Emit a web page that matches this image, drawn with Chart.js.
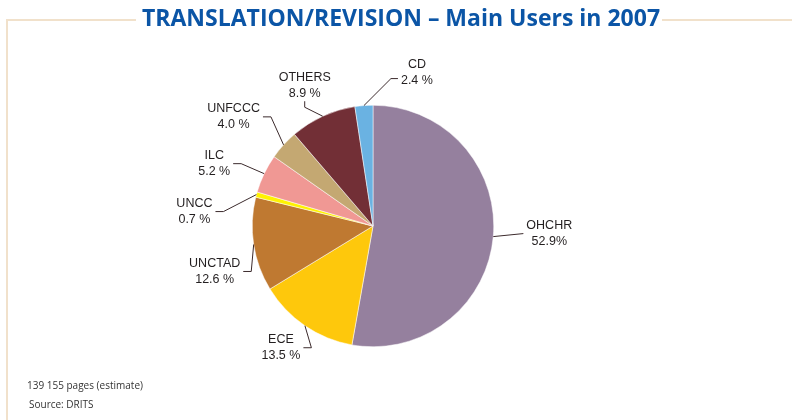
<!DOCTYPE html>
<html>
<head>
<meta charset="utf-8">
<script src="https://cdn.jsdelivr.net/npm/chart.js@4"></script>
<style>
  html, body { margin: 0; padding: 0; background: #fff; }
  #wrap { position: relative; width: 792px; height: 420px; }
</style>
</head>
<body>
<div id="wrap"><canvas id="pie" width="792" height="420"></canvas></div>
<script>
const users = ['OHCHR', 'ECE', 'UNCTAD', 'UNCC', 'ILC', 'UNFCCC', 'OTHERS', 'CD'];
const shares = [52.9, 13.5, 12.6, 0.7, 5.2, 4.0, 8.9, 2.4];
const shareText = ['52.9%', '13.5 %', '12.6 %', '0.7 %', '5.2 %', '4.0 %', '8.9 %', '2.4 %'];
const colours = ['#95809e', '#fec80c', '#bf7931', '#fff200', '#f09894', '#c4a872', '#722f36', '#6ab2e2'];

// label nudges from each slice's outer mid point, and which side the leader meets the text
const labelNudge = [[56, -3], [-24, 22], [-39, 27], [-62, 17], [-50, -10], [-50, -28], [-18, -31], [53, -33]];
const labelSide = ['l', 'r', 'r', 'r', 'r', 'r', 'b', 'l'];

const FRAME = '#f1e1cb';
const labelFont = '12.5px "Liberation Sans", Arial, sans-serif';

const pieLabels = {
    id: 'pieLabels',
    afterDatasetsDraw(chart) {
        const ctx = chart.ctx;
        const meta = chart.getDatasetMeta(0);
        ctx.save();
        ctx.font = labelFont;
        ctx.fillStyle = '#231f20';
        ctx.strokeStyle = '#3b2a2c';
        ctx.lineWidth = 1;
        ctx.textAlign = 'center';
        ctx.textBaseline = 'middle';
        meta.data.forEach(function(arc, i) {
            const p = arc.getProps(['x', 'y', 'startAngle', 'endAngle', 'outerRadius'], true);
            const mid = (p.startAngle + p.endAngle) / 2;
            const ex = p.x + Math.cos(mid) * p.outerRadius;
            const ey = p.y + Math.sin(mid) * p.outerRadius;
            const lx = ex + labelNudge[i][0];
            const ly = ey + labelNudge[i][1];
            const w = Math.max(ctx.measureText(users[i]).width, ctx.measureText(shareText[i]).width);
            ctx.fillText(users[i], lx, ly - 8);
            ctx.fillText(shareText[i], lx, ly + 8);

            ctx.beginPath();
            ctx.moveTo(ex, ey);
            if (labelSide[i] === 'r') {
                const tx = lx + w / 2 + 3;
                ctx.lineTo(tx + 8, ly);
                ctx.lineTo(tx, ly);
            } else if (labelSide[i] === 'l') {
                const tx = lx - w / 2 - 3;
                if (i === 0) {
                    ctx.lineTo(tx, ly);
                } else {
                    ctx.lineTo(tx - 7, ly + 6);
                    ctx.lineTo(tx, ly + 6);
                }
            } else {
                ctx.lineTo(lx, ly + 22);
                ctx.lineTo(lx, ly + 16);
            }
            ctx.stroke();
        });
        ctx.restore();
    }
};

const frame = {
    id: 'frame',
    beforeDraw(chart) {
        const ctx = chart.ctx;
        ctx.save();
        ctx.font = 'bold 23px "Open Sans", "DejaVu Sans", sans-serif';
        ctx.textAlign = 'center';
        ctx.textBaseline = 'middle';
        const title = 'TRANSLATION/REVISION \u2013 Main Users in 2007';
        const tw = ctx.measureText(title).width;
        const cx = 401;
        ctx.strokeStyle = FRAME;
        ctx.lineWidth = 2;
        ctx.beginPath();
        ctx.moveTo(7, 420);
        ctx.lineTo(7, 20);
        ctx.lineTo(cx - tw / 2 - 6, 20);
        ctx.moveTo(cx + tw / 2 + 2, 20);
        ctx.lineTo(792, 20);
        ctx.stroke();
        ctx.fillStyle = '#0b55a6';
        ctx.fillText(title, cx, 19);

        ctx.textAlign = 'left';
        ctx.fillStyle = '#333';
        ctx.font = '10px "Open Sans", sans-serif';
        ctx.fillText('139 155 pages (estimate)', 27, 386);
        ctx.fillText('Source: DRITS', 29, 405);
        ctx.restore();
    }
};

new Chart(document.getElementById('pie'), {
    type: 'pie',
    data: {
        labels: users,
        datasets: [{
            data: shares,
            backgroundColor: colours,
            borderColor: '#fff',
            borderWidth: 0.5
        }]
    },
    options: {
        responsive: false,
        animation: false,
        layout: { padding: { top: 105, bottom: 73, left: 252, right: 298 } },
        plugins: {
            legend: { display: false },
            tooltip: { enabled: false }
        }
    },
    plugins: [frame, pieLabels]
});
</script>
</body>
</html>
